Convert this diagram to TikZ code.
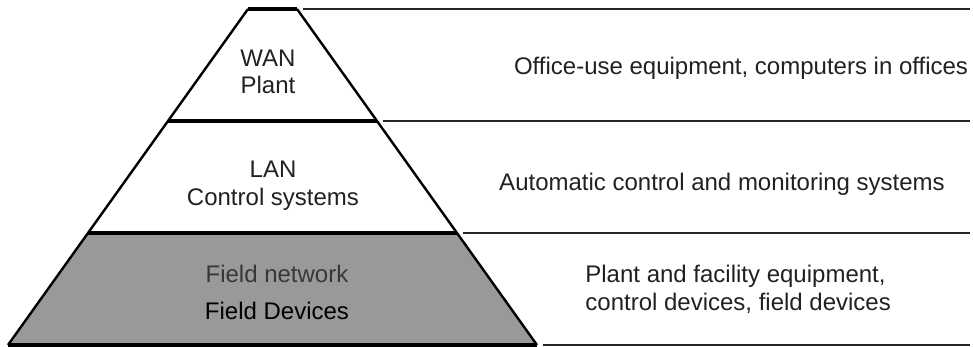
\documentclass[tikz,border=0pt]{standalone}
\usepackage{fontspec}
\setmainfont{Liberation Sans}
\usetikzlibrary{positioning}
\definecolor{field-gray}{gray}{0.6}
\definecolor{label-dark}{gray}{0.13}
\definecolor{net-gray}{gray}{0.22}

\begin{document}
\begin{tikzpicture}[x=0.5pt, y=-0.5pt,
    level/.style={align=center, inner sep=0pt, font=\fontsize{12}{13.5}\selectfont, text=label-dark},
    info/.style={inner sep=0pt, font=\fontsize{12}{14}\selectfont, text=label-dark},
    bar/.style={line width=2pt},
    side/.style={line width=1.2pt},
    rule/.style={line width=0.85pt, black!85}]
  \useasboundingbox (0,0) rectangle (973,347);
  % corners of the pyramid
  \coordinate (top-l) at (248,9);   \coordinate (top-r) at (297,9);
  \coordinate (lan-l) at (168,121); \coordinate (lan-r) at (377,121);
  \coordinate (fld-l) at (88,233);  \coordinate (fld-r) at (457,233);
  \coordinate (bot-l) at (8,345);   \coordinate (bot-r) at (537,345);
  % ends of the rules on the right
  \coordinate (rule1) at (303,9);   \coordinate (rule1e) at (970,9);
  \coordinate (rule2) at (383,121); \coordinate (rule2e) at (970,121);
  \coordinate (rule3) at (463,233); \coordinate (rule3e) at (970,233);
  \coordinate (rule4) at (543,345); \coordinate (rule4e) at (970,345);
  \fill[field-gray] (fld-l) -- (fld-r) -- (bot-r) -- (bot-l) -- cycle;
  \draw[side] (top-l) -- (bot-l);
  \draw[side] (top-r) -- (bot-r);
  \draw[bar] (top-l) -- (top-r);
  \draw[bar] (lan-l) -- (lan-r);
  \draw[bar] (fld-l) -- (fld-r);
  \draw[bar] (bot-l) -- (bot-r);
  \draw[rule] (rule1) -- (rule1e);
  \draw[rule] (rule2) -- (rule2e);
  \draw[rule] (rule3) -- (rule3e);
  \draw[rule] (rule4) -- (rule4e);
  % layer labels
  \node[level] (wan) at (268,72) {WAN\\Plant};
  \node[level, font=\fontsize{12}{14}\selectfont] (lan) at (273,186) {LAN\\Control systems};
  \node[level] (field) at (277,292) {\textcolor{net-gray}{Field network}\\[5pt]\textcolor{black}{Field Devices}};
  % descriptions
  \node[info, anchor=base] (office) at (741,75) {Office-use equipment, computers in offices};
  \node[info, anchor=base] (auto) at (722,191) {Automatic control and monitoring systems};
  \node[info, align=left, anchor=north west] (plant) at (585,265) {Plant and facility equipment,\\control devices, field devices};
\end{tikzpicture}
\end{document}
